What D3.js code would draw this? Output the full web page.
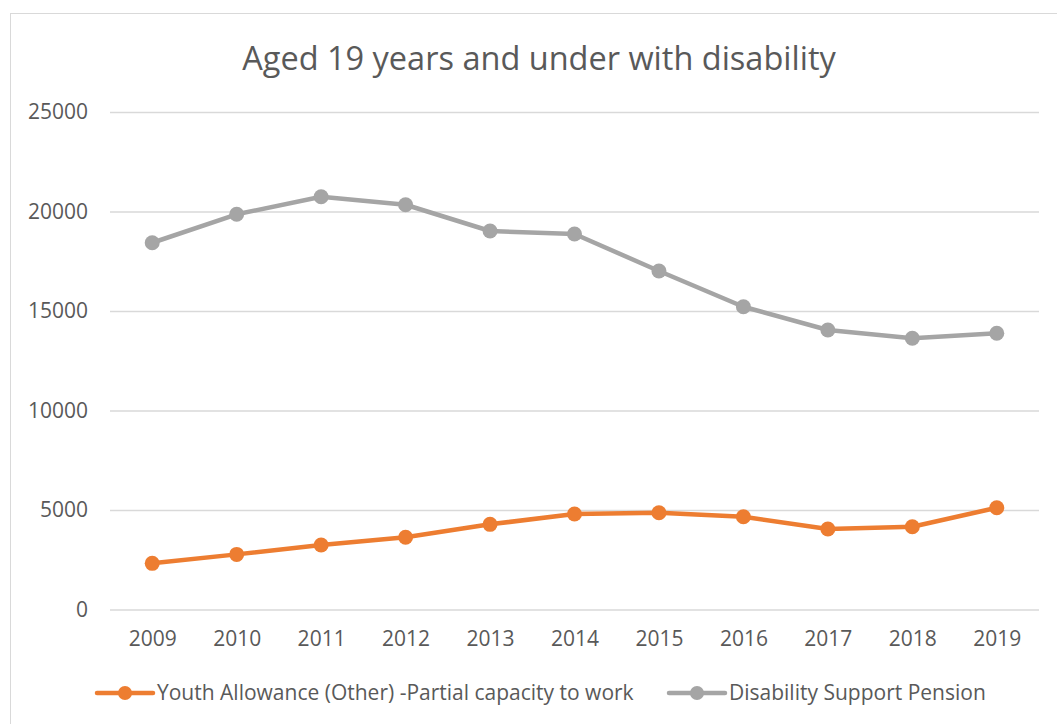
<!DOCTYPE html>
<html><head><meta charset="utf-8">
<script src="https://cdn.jsdelivr.net/npm/d3@7"></script>
<style>body{margin:0;background:#fff;} svg{display:block;}</style>
</head><body>
<svg id="chart" width="1057" height="724"></svg>
<script>
const years = ["2009","2010","2011","2012","2013","2014","2015","2016","2017","2018","2019"];
const youthAllowance = [2320, 2770, 3240, 3630, 4280, 4800, 4860, 4660, 4045, 4160, 5115];
const disabilityPension = [18430, 19860, 20740, 20340, 19020, 18870, 17010, 15215, 14045, 13630, 13880];
const yTicks = [0, 5000, 10000, 15000, 20000, 25000];
const seriesNames = ["Youth Allowance (Other) -Partial capacity to work", "Disability Support Pension"];
const seriesColors = ["#ED7D31", "#A5A5A5"];
const chartTitle = "Aged 19 years and under with disability";

(function(){
const svg = d3.select("#chart");
const font = "'Open Sans', Lato, sans-serif";
const textColor = "#595959";

svg.append("rect").attr("x",10.5).attr("y",13.5).attr("width",1100).attr("height",800)
  .attr("fill","#fff").attr("stroke","#d9d9d9").attr("stroke-width",1);

const pl = 110, pr = 1039, pt = 112, pb = 609.5;
const x = d3.scalePoint().domain(years).range([pl, pr]).padding(0.5);
const y = d3.scaleLinear().domain([0, 25000]).range([pb, pt]);

svg.append("text").attr("x", 539).attr("y", 70).attr("text-anchor","middle")
  .attr("font-family", font).attr("font-size", 32.5).attr("fill", textColor).text(chartTitle);

const yAxis = d3.axisLeft(y).tickValues(yTicks).tickSize(-(pr-pl)).tickPadding(22).tickFormat(d3.format("d"));
const gy = svg.append("g").attr("transform",`translate(${pl},0)`).call(yAxis);
gy.select(".domain").remove();
gy.selectAll(".tick line").attr("stroke","#d9d9d9").attr("stroke-width",1.5);
gy.selectAll(".tick text").attr("font-family", font).attr("font-size", 21).attr("fill", textColor);

const xAxis = d3.axisBottom(x).tickSize(0).tickPadding(22);
const gx = svg.append("g").attr("transform",`translate(0,${pb})`).call(xAxis);
gx.select(".domain").remove();
gx.selectAll(".tick text").attr("font-family", font).attr("font-size", 21).attr("fill", textColor);

const data = [youthAllowance, disabilityPension];
const line = d3.line().x((d,i)=>x(years[i])).y(d=>y(d));
data.forEach((vals, k) => {
  svg.append("path").attr("d", line(vals)).attr("fill","none")
    .attr("stroke", seriesColors[k]).attr("stroke-width", 4.5).attr("stroke-linejoin","round");
  svg.selectAll(null).data(vals).enter().append("circle")
    .attr("cx",(d,i)=>x(years[i])).attr("cy",d=>y(d)).attr("r",7.5).attr("fill",seriesColors[k]);
});

const legendX = [97, 669];
seriesNames.forEach((name, k) => {
  const g = svg.append("g").attr("transform",`translate(${legendX[k]},693)`);
  g.append("line").attr("x1",0).attr("x2",56).attr("y1",0).attr("y2",0)
    .attr("stroke",seriesColors[k]).attr("stroke-width",4.5).attr("stroke-linecap","round");
  g.append("circle").attr("cx",28).attr("cy",0).attr("r",7).attr("fill",seriesColors[k]);
  g.append("text").attr("x",60).attr("y",0).attr("dy","0.35em").attr("font-family",font)
    .attr("font-size",21).attr("fill",textColor).text(name);
});
})();
</script>
</body></html>
